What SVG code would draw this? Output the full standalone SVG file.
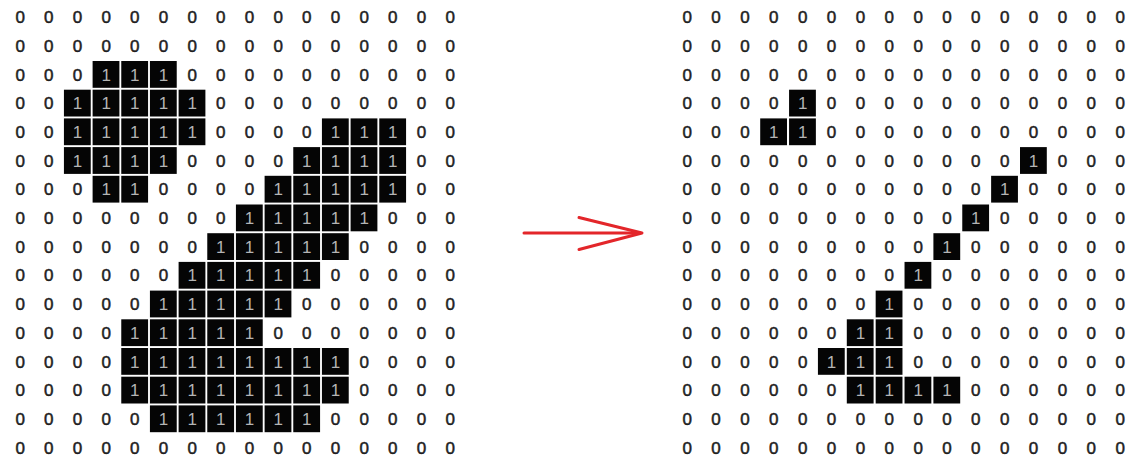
<svg xmlns="http://www.w3.org/2000/svg" xmlns:xlink="http://www.w3.org/1999/xlink" width="1138" height="460" viewBox="0 0 1138 460">
<style>
text{font-family:"Liberation Sans","DejaVu Sans",sans-serif;font-size:17px;text-anchor:middle;fill:#1e1e1e;stroke:#1e1e1e;stroke-width:0.5}
.w{fill:#b4b4b4;stroke:none}
.cell{fill:#050505}
.arrow{fill:none;stroke:#e3262a;stroke-width:3;stroke-linecap:round;stroke-linejoin:round}
</style>
<defs>
<rect id="c" class="cell" width="26.8" height="26.8"/>
</defs>
<rect width="1138" height="460" fill="#ffffff"/>
<g id="grid-before" transform="translate(0.2 0.2)">
<use href="#c" x="92.4" y="60.8"/><use href="#c" x="121.07" y="60.8"/><use href="#c" x="149.73" y="60.8"/>
<use href="#c" x="63.73" y="89.5"/><use href="#c" x="92.4" y="89.5"/><use href="#c" x="121.07" y="89.5"/><use href="#c" x="149.73" y="89.5"/><use href="#c" x="178.4" y="89.5"/>
<use href="#c" x="63.73" y="118.2"/><use href="#c" x="92.4" y="118.2"/><use href="#c" x="121.07" y="118.2"/><use href="#c" x="149.73" y="118.2"/><use href="#c" x="178.4" y="118.2"/><use href="#c" x="321.73" y="118.2"/><use href="#c" x="350.4" y="118.2"/><use href="#c" x="379.07" y="118.2"/>
<use href="#c" x="63.73" y="146.9"/><use href="#c" x="92.4" y="146.9"/><use href="#c" x="121.07" y="146.9"/><use href="#c" x="149.73" y="146.9"/><use href="#c" x="293.07" y="146.9"/><use href="#c" x="321.73" y="146.9"/><use href="#c" x="350.4" y="146.9"/><use href="#c" x="379.07" y="146.9"/>
<use href="#c" x="92.4" y="175.6"/><use href="#c" x="121.07" y="175.6"/><use href="#c" x="264.4" y="175.6"/><use href="#c" x="293.07" y="175.6"/><use href="#c" x="321.73" y="175.6"/><use href="#c" x="350.4" y="175.6"/><use href="#c" x="379.07" y="175.6"/>
<use href="#c" x="235.73" y="204.3"/><use href="#c" x="264.4" y="204.3"/><use href="#c" x="293.07" y="204.3"/><use href="#c" x="321.73" y="204.3"/><use href="#c" x="350.4" y="204.3"/>
<use href="#c" x="207.07" y="233"/><use href="#c" x="235.73" y="233"/><use href="#c" x="264.4" y="233"/><use href="#c" x="293.07" y="233"/><use href="#c" x="321.73" y="233"/>
<use href="#c" x="178.4" y="261.7"/><use href="#c" x="207.07" y="261.7"/><use href="#c" x="235.73" y="261.7"/><use href="#c" x="264.4" y="261.7"/><use href="#c" x="293.07" y="261.7"/>
<use href="#c" x="149.73" y="290.4"/><use href="#c" x="178.4" y="290.4"/><use href="#c" x="207.07" y="290.4"/><use href="#c" x="235.73" y="290.4"/><use href="#c" x="264.4" y="290.4"/>
<use href="#c" x="121.07" y="319.1"/><use href="#c" x="149.73" y="319.1"/><use href="#c" x="178.4" y="319.1"/><use href="#c" x="207.07" y="319.1"/><use href="#c" x="235.73" y="319.1"/>
<use href="#c" x="121.07" y="347.8"/><use href="#c" x="149.73" y="347.8"/><use href="#c" x="178.4" y="347.8"/><use href="#c" x="207.07" y="347.8"/><use href="#c" x="235.73" y="347.8"/><use href="#c" x="264.4" y="347.8"/><use href="#c" x="293.07" y="347.8"/><use href="#c" x="321.73" y="347.8"/>
<use href="#c" x="121.07" y="376.5"/><use href="#c" x="149.73" y="376.5"/><use href="#c" x="178.4" y="376.5"/><use href="#c" x="207.07" y="376.5"/><use href="#c" x="235.73" y="376.5"/><use href="#c" x="264.4" y="376.5"/><use href="#c" x="293.07" y="376.5"/><use href="#c" x="321.73" y="376.5"/>
<use href="#c" x="149.73" y="405.2"/><use href="#c" x="178.4" y="405.2"/><use href="#c" x="207.07" y="405.2"/><use href="#c" x="235.73" y="405.2"/><use href="#c" x="264.4" y="405.2"/><use href="#c" x="293.07" y="405.2"/>
<text x="20 48.67 77.33 106 134.67 163.33 192 220.67 249.33 278 306.67 335.33 364 392.67 421.33 450" y="23">0000000000000000</text>
<text x="20 48.67 77.33 106 134.67 163.33 192 220.67 249.33 278 306.67 335.33 364 392.67 421.33 450" y="51.7">0000000000000000</text>
<text x="20 48.67 77.33 106 134.67 163.33 192 220.67 249.33 278 306.67 335.33 364 392.67 421.33 450" y="80.4">000<tspan class="w">111</tspan>0000000000</text>
<text x="20 48.67 77.33 106 134.67 163.33 192 220.67 249.33 278 306.67 335.33 364 392.67 421.33 450" y="109.1">00<tspan class="w">11111</tspan>000000000</text>
<text x="20 48.67 77.33 106 134.67 163.33 192 220.67 249.33 278 306.67 335.33 364 392.67 421.33 450" y="137.8">00<tspan class="w">11111</tspan>0000<tspan class="w">111</tspan>00</text>
<text x="20 48.67 77.33 106 134.67 163.33 192 220.67 249.33 278 306.67 335.33 364 392.67 421.33 450" y="166.5">00<tspan class="w">1111</tspan>0000<tspan class="w">1111</tspan>00</text>
<text x="20 48.67 77.33 106 134.67 163.33 192 220.67 249.33 278 306.67 335.33 364 392.67 421.33 450" y="195.2">000<tspan class="w">11</tspan>0000<tspan class="w">11111</tspan>00</text>
<text x="20 48.67 77.33 106 134.67 163.33 192 220.67 249.33 278 306.67 335.33 364 392.67 421.33 450" y="223.9">00000000<tspan class="w">11111</tspan>000</text>
<text x="20 48.67 77.33 106 134.67 163.33 192 220.67 249.33 278 306.67 335.33 364 392.67 421.33 450" y="252.6">0000000<tspan class="w">11111</tspan>0000</text>
<text x="20 48.67 77.33 106 134.67 163.33 192 220.67 249.33 278 306.67 335.33 364 392.67 421.33 450" y="281.3">000000<tspan class="w">11111</tspan>00000</text>
<text x="20 48.67 77.33 106 134.67 163.33 192 220.67 249.33 278 306.67 335.33 364 392.67 421.33 450" y="310">00000<tspan class="w">11111</tspan>000000</text>
<text x="20 48.67 77.33 106 134.67 163.33 192 220.67 249.33 278 306.67 335.33 364 392.67 421.33 450" y="338.7">0000<tspan class="w">11111</tspan>0000000</text>
<text x="20 48.67 77.33 106 134.67 163.33 192 220.67 249.33 278 306.67 335.33 364 392.67 421.33 450" y="367.4">0000<tspan class="w">11111111</tspan>0000</text>
<text x="20 48.67 77.33 106 134.67 163.33 192 220.67 249.33 278 306.67 335.33 364 392.67 421.33 450" y="396.1">0000<tspan class="w">11111111</tspan>0000</text>
<text x="20 48.67 77.33 106 134.67 163.33 192 220.67 249.33 278 306.67 335.33 364 392.67 421.33 450" y="424.8">00000<tspan class="w">111111</tspan>00000</text>
<text x="20 48.67 77.33 106 134.67 163.33 192 220.67 249.33 278 306.67 335.33 364 392.67 421.33 450" y="453.5">0000000000000000</text>
</g>
<g id="grid-after" transform="translate(0.2 0.2)">
<use href="#c" x="788.87" y="89.5"/>
<use href="#c" x="760" y="118.2"/><use href="#c" x="788.87" y="118.2"/>
<use href="#c" x="1019.8" y="146.9"/>
<use href="#c" x="990.93" y="175.6"/>
<use href="#c" x="962.07" y="204.3"/>
<use href="#c" x="933.2" y="233"/>
<use href="#c" x="904.33" y="261.7"/>
<use href="#c" x="875.47" y="290.4"/>
<use href="#c" x="846.6" y="319.1"/><use href="#c" x="875.47" y="319.1"/>
<use href="#c" x="817.73" y="347.8"/><use href="#c" x="846.6" y="347.8"/><use href="#c" x="875.47" y="347.8"/>
<use href="#c" x="846.6" y="376.5"/><use href="#c" x="875.47" y="376.5"/><use href="#c" x="904.33" y="376.5"/><use href="#c" x="933.2" y="376.5"/>
<text x="687 715.87 744.73 773.6 802.47 831.33 860.2 889.07 917.93 946.8 975.67 1004.53 1033.4 1062.27 1091.13 1120" y="23">0000000000000000</text>
<text x="687 715.87 744.73 773.6 802.47 831.33 860.2 889.07 917.93 946.8 975.67 1004.53 1033.4 1062.27 1091.13 1120" y="51.7">0000000000000000</text>
<text x="687 715.87 744.73 773.6 802.47 831.33 860.2 889.07 917.93 946.8 975.67 1004.53 1033.4 1062.27 1091.13 1120" y="80.4">0000000000000000</text>
<text x="687 715.87 744.73 773.6 802.47 831.33 860.2 889.07 917.93 946.8 975.67 1004.53 1033.4 1062.27 1091.13 1120" y="109.1">0000<tspan class="w">1</tspan>00000000000</text>
<text x="687 715.87 744.73 773.6 802.47 831.33 860.2 889.07 917.93 946.8 975.67 1004.53 1033.4 1062.27 1091.13 1120" y="137.8">000<tspan class="w">11</tspan>00000000000</text>
<text x="687 715.87 744.73 773.6 802.47 831.33 860.2 889.07 917.93 946.8 975.67 1004.53 1033.4 1062.27 1091.13 1120" y="166.5">000000000000<tspan class="w">1</tspan>000</text>
<text x="687 715.87 744.73 773.6 802.47 831.33 860.2 889.07 917.93 946.8 975.67 1004.53 1033.4 1062.27 1091.13 1120" y="195.2">00000000000<tspan class="w">1</tspan>0000</text>
<text x="687 715.87 744.73 773.6 802.47 831.33 860.2 889.07 917.93 946.8 975.67 1004.53 1033.4 1062.27 1091.13 1120" y="223.9">0000000000<tspan class="w">1</tspan>00000</text>
<text x="687 715.87 744.73 773.6 802.47 831.33 860.2 889.07 917.93 946.8 975.67 1004.53 1033.4 1062.27 1091.13 1120" y="252.6">000000000<tspan class="w">1</tspan>000000</text>
<text x="687 715.87 744.73 773.6 802.47 831.33 860.2 889.07 917.93 946.8 975.67 1004.53 1033.4 1062.27 1091.13 1120" y="281.3">00000000<tspan class="w">1</tspan>0000000</text>
<text x="687 715.87 744.73 773.6 802.47 831.33 860.2 889.07 917.93 946.8 975.67 1004.53 1033.4 1062.27 1091.13 1120" y="310">0000000<tspan class="w">1</tspan>00000000</text>
<text x="687 715.87 744.73 773.6 802.47 831.33 860.2 889.07 917.93 946.8 975.67 1004.53 1033.4 1062.27 1091.13 1120" y="338.7">000000<tspan class="w">11</tspan>00000000</text>
<text x="687 715.87 744.73 773.6 802.47 831.33 860.2 889.07 917.93 946.8 975.67 1004.53 1033.4 1062.27 1091.13 1120" y="367.4">00000<tspan class="w">111</tspan>00000000</text>
<text x="687 715.87 744.73 773.6 802.47 831.33 860.2 889.07 917.93 946.8 975.67 1004.53 1033.4 1062.27 1091.13 1120" y="396.1">000000<tspan class="w">1111</tspan>000000</text>
<text x="687 715.87 744.73 773.6 802.47 831.33 860.2 889.07 917.93 946.8 975.67 1004.53 1033.4 1062.27 1091.13 1120" y="424.8">0000000000000000</text>
<text x="687 715.87 744.73 773.6 802.47 831.33 860.2 889.07 917.93 946.8 975.67 1004.53 1033.4 1062.27 1091.13 1120" y="453.5">0000000000000000</text>
</g>
<g id="connectors">
<line class="arrow" x1="524" y1="233" x2="640" y2="233"/>
<polyline class="arrow" points="579,217.5 642,233 579,249.5"/>
</g>
</svg>
